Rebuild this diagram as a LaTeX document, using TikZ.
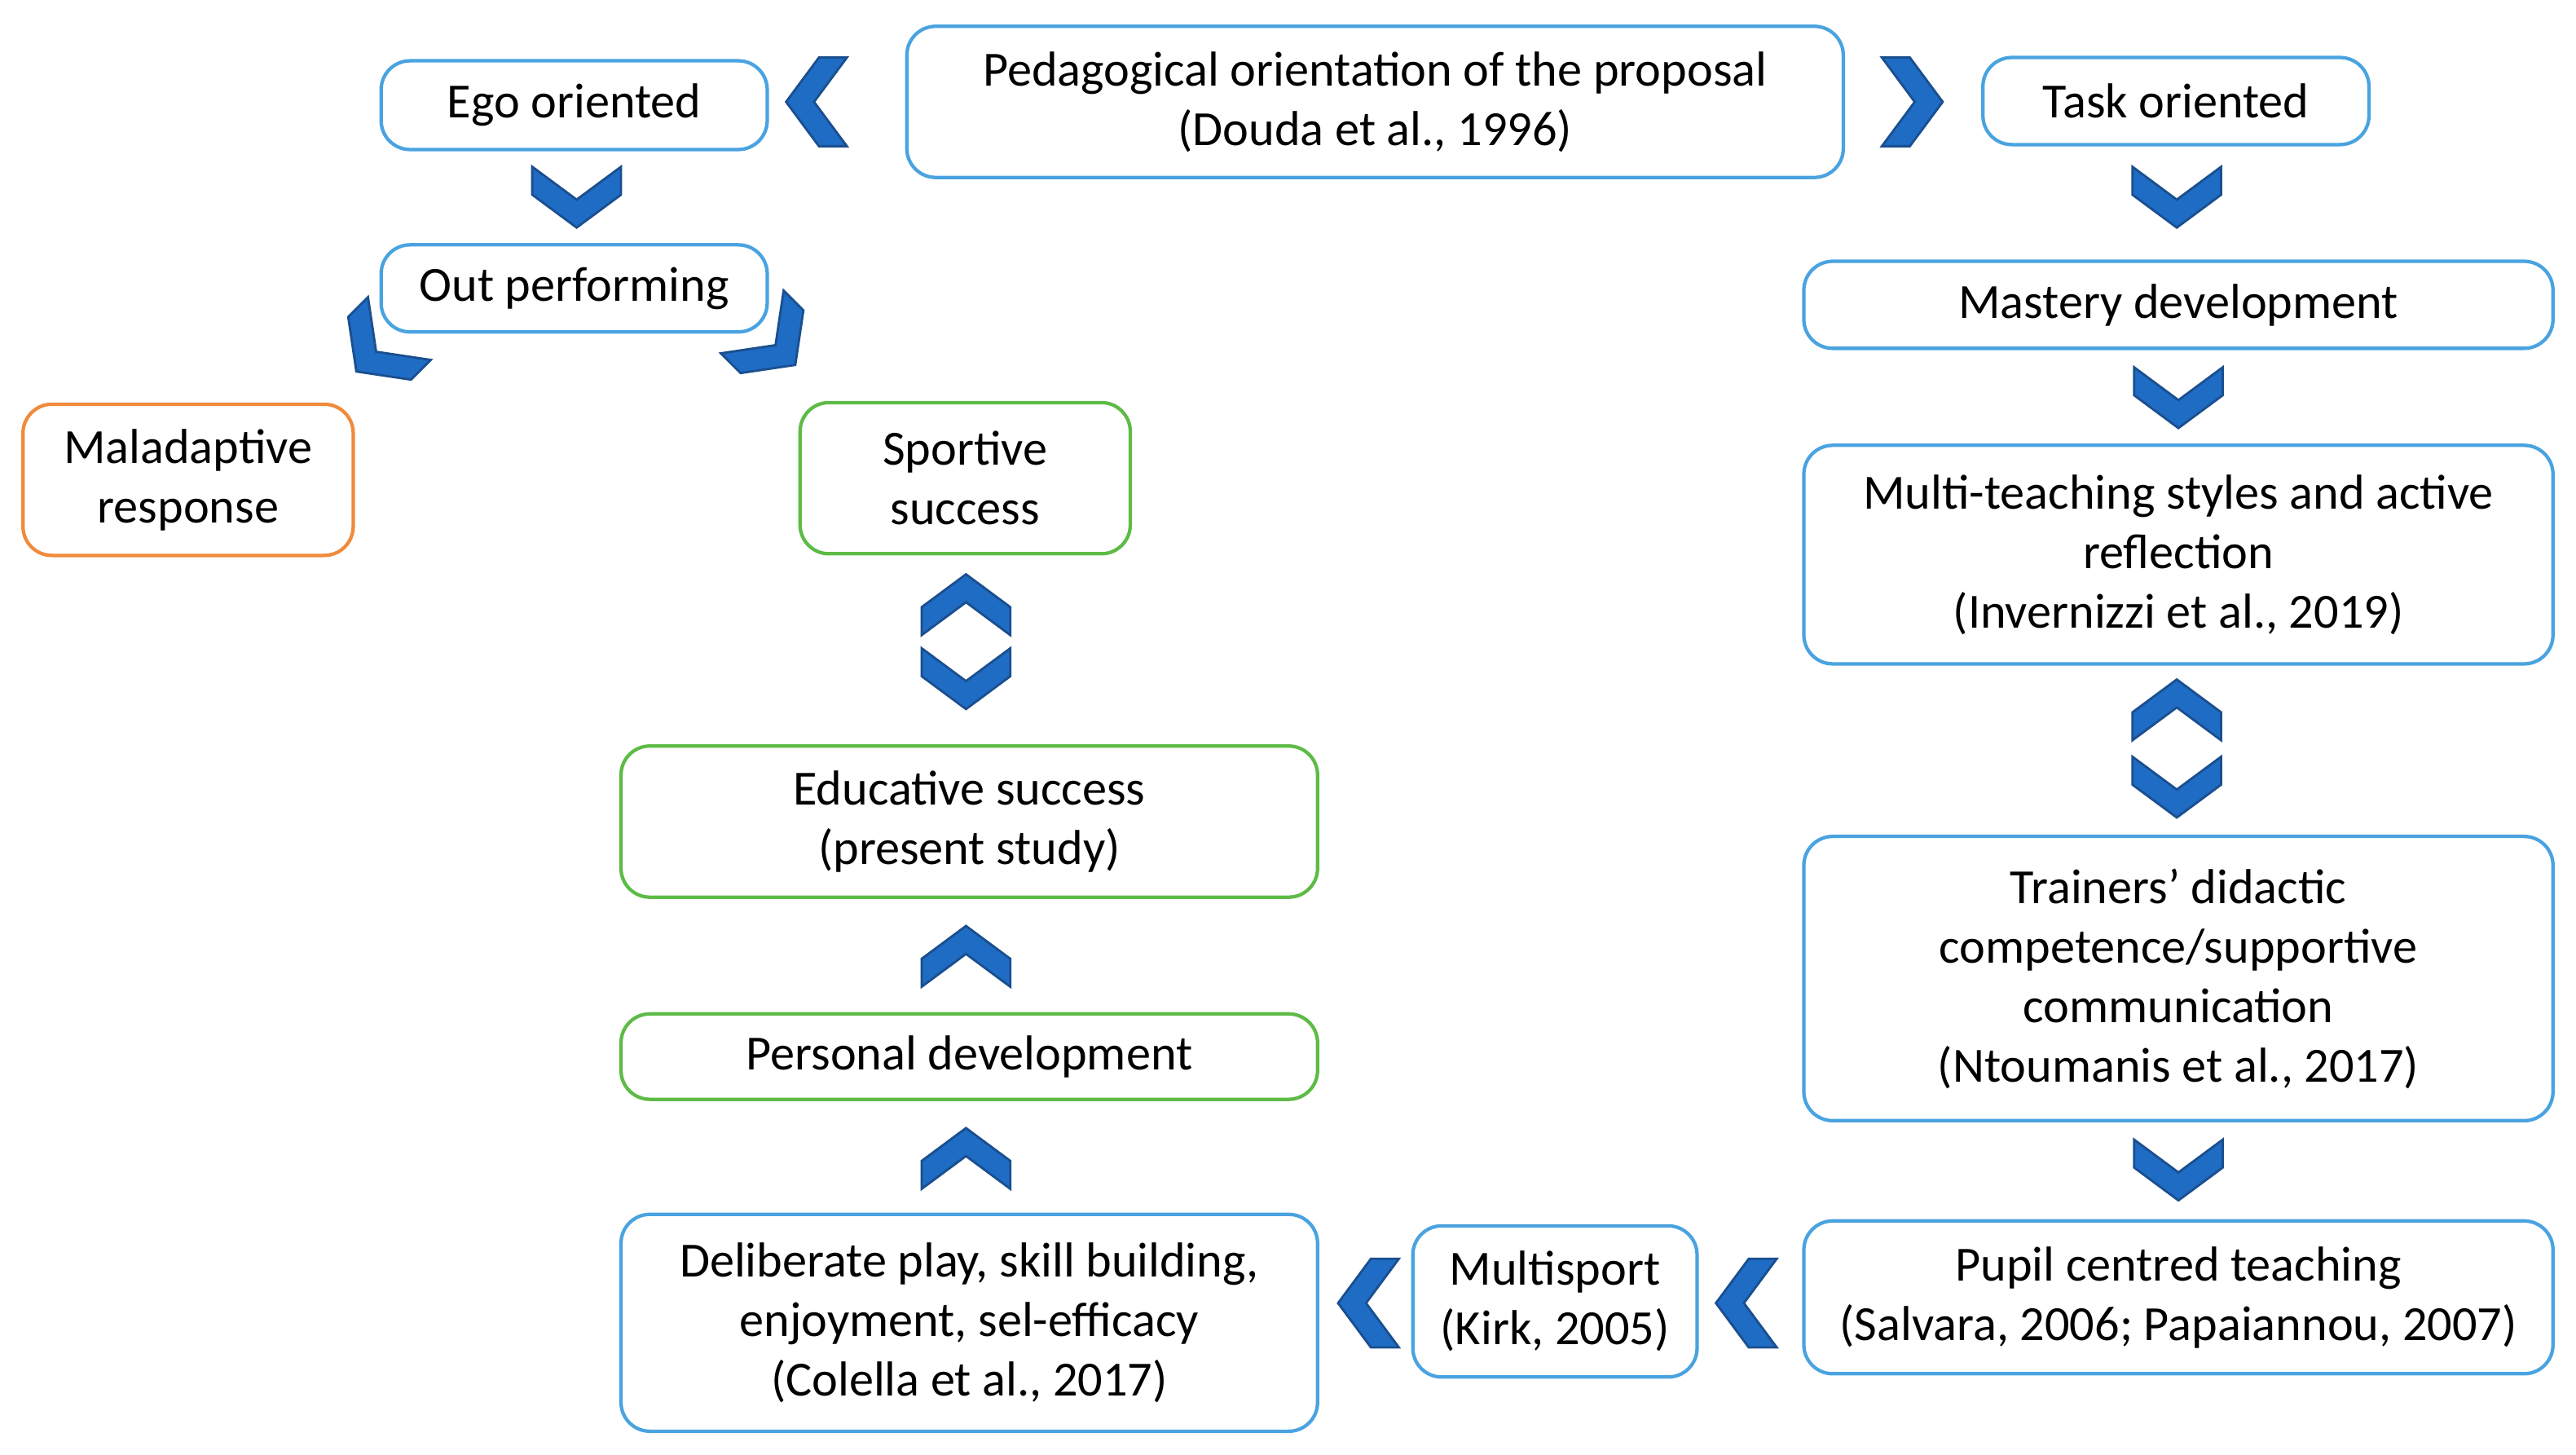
\documentclass[tikz,border=0pt]{standalone}
\usepackage{fontspec}
\setmainfont{Carlito}
\begin{document}
\begin{tikzpicture}[x=0.01cm,y=-0.01cm,
  bx/.style={draw=#1,line width=0.6pt,rounded corners=5pt,align=center,inner sep=0pt,
    font=\fontsize{8.5}{10.3}\selectfont},
  bb/.style={bx=boxblue},
  bg/.style={bx=boxgreen},
  bo/.style={bx=boxorange},
  chev/.pic={\filldraw[fill=chevfill,draw=chevline,line width=0.4pt]
    (-27,-18.5)--(0,1.5)--(27,-18.5)--(27,-1.5)--(0,18.5)--(-27,-1.5)--cycle;}]
\definecolor{boxblue}{HTML}{4AA3E0}
\definecolor{boxgreen}{HTML}{5DBB46}
\definecolor{boxorange}{HTML}{F08A3C}
\definecolor{chevfill}{HTML}{1F6CC4}
\definecolor{chevline}{HTML}{1A4F8F}
\path[use as bounding box] (0,0) rectangle (1568,885);
\newcommand\bxat[6]{\node[#1,minimum width={(#4-#2)*0.01cm},minimum height={(#5-#3)*0.01cm}] (#6) at ({(#2+#4)/2},{(#3+#5)/2})}
\bxat{bb}{232}{37}{467}{91}{ego} {Ego oriented};
\bxat{bb}{552}{16}{1122}{108}{ped} {Pedagogical orientation of the proposal\\(Douda et al., 1996)};
\bxat{bb}{1207}{35}{1442}{88}{task} {Task oriented};
\bxat{bb}{232}{149}{467}{202}{out} {Out performing};
\bxat{bo}{14}{246}{215}{338}{mal} {Maladaptive\\response};
\bxat{bg}{487}{245}{688}{337}{spo} {Sportive\\success};
\bxat{bb}{1098}{159}{1554}{212}{mas} {Mastery development};
\bxat{bb}{1098}{271}{1554}{404}{mul} {Multi-teaching styles and active\\reflection\\(Invernizzi et al., 2019)};
\bxat{bb}{1098}{509}{1554}{682}{tra} {Trainers’ didactic\\competence/supportive\\communication\\(Ntoumanis et al., 2017)};
\bxat{bb}{1098}{743}{1554}{836}{pup} {Pupil centred teaching\\(Salvara, 2006; Papaiannou, 2007)};
\bxat{bb}{860}{746}{1033}{838}{mus} {Multisport\\(Kirk, 2005)};
\bxat{bb}{378}{739}{802}{871}{del} {Deliberate play, skill building,\\enjoyment, sel-efficacy\\(Colella et al., 2017)};
\bxat{bg}{378}{617}{802}{669}{per} {Personal development};
\bxat{bg}{378}{454}{802}{546}{edu} {Educative success\\(present study)};
\pic[rotate=-90] at (497,62) {chev};
\pic[rotate=90] at (1164,62) {chev};
\pic at (351,120) {chev};
\pic at (1325,120) {chev};
\pic at (1326,242) {chev};
\pic[rotate=-45] at (230,213) {chev};
\pic[rotate=45] at (471,209) {chev};
\pic[rotate=180] at (588,368) {chev};
\pic at (588,413) {chev};
\pic[rotate=180] at (1325,432) {chev};
\pic at (1325,479) {chev};
\pic[rotate=180] at (588,582) {chev};
\pic[rotate=180] at (588,705) {chev};
\pic at (1326,712) {chev};
\pic[rotate=-90] at (833,793) {chev};
\pic[rotate=-90] at (1063,793) {chev};
\end{tikzpicture}
\end{document}
